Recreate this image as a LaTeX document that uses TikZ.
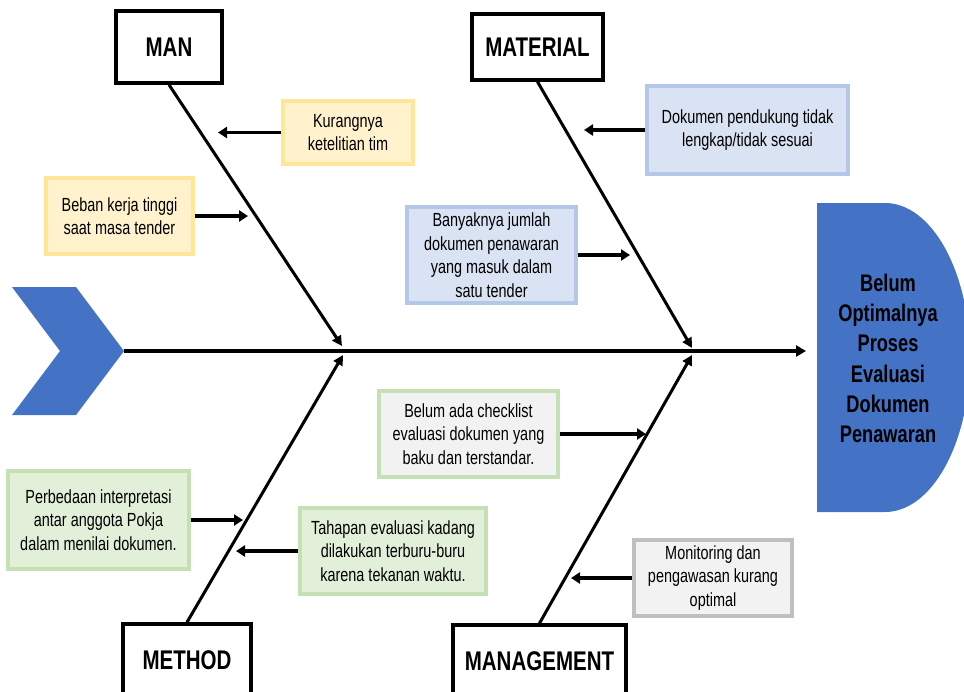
\documentclass[tikz,border=0pt]{standalone}
\usepackage{fontspec}
\setmainfont{Liberation Sans}[FakeStretch=0.76]
\usetikzlibrary{arrows.meta}
\definecolor{headblue}{HTML}{4472C4}
\definecolor{yfill}{HTML}{FFF2CC}
\definecolor{ydraw}{HTML}{FFE699}
\definecolor{bfill}{HTML}{DAE3F3}
\definecolor{bdraw}{HTML}{B4C7E7}
\definecolor{gfill}{HTML}{E2F0D9}
\definecolor{gdraw}{HTML}{C5E0B4}
\definecolor{greyfill}{HTML}{F2F2F2}
\definecolor{greydraw}{HTML}{BFBFBF}
\tikzset{
  catbox/.style={draw=black, line width=3.5pt, fill=white, inner sep=0pt,
    font=\bfseries\fontsize{27}{32}\selectfont},
  causebox/.style={line width=3.2pt, inner sep=0pt, align=center,
    font=\fontsize{19}{23.5}\selectfont},
  arr/.style={line width=3.3pt, -{Triangle[length=9pt,width=11pt]}},
  bone/.style={line width=3pt, -{Triangle[length=10pt,width=10pt]}},
}
\begin{document}
\begin{tikzpicture}[x=1pt,y=-1pt]
\useasboundingbox (0,0) rectangle (964,691);
% head
\path[fill=headblue] (817,203) -- (885,203) arc[start angle=-90,end angle=90,x radius=85,y radius=154.5] -- (817,512) -- cycle;
\node[font=\bfseries\fontsize{24}{30.2}\selectfont, align=center, inner sep=0pt] (head) at (888,358.5)
  {Belum\\Optimalnya\\Proses\\Evaluasi\\Dokumen\\Penawaran};
% tail chevron
\path[fill=headblue] (12,287) -- (76,287) -- (124,351) -- (76,415) -- (12,415) -- (60,351) -- cycle;
\coordinate (tail) at (124,351);
\coordinate (spineEnd) at (806,351);
\draw[line width=3.3pt, -{Triangle[length=10pt,width=11pt]}] (tail) -- (spineEnd);
% categories
\node[catbox, minimum width=106pt, minimum height=72pt] (man) at (169,47) {MAN};
\node[catbox, minimum width=131pt, minimum height=66pt] (mat) at (537.5,47) {MATERIAL};
\node[catbox, minimum width=128pt, minimum height=72pt] (met) at (187,660) {METHOD};
\node[catbox, minimum width=173pt, minimum height=72pt] (mgm) at (539.5,661) {MANAGEMENT};
\coordinate (manEnd) at (342,346);
\coordinate (matEnd) at (692,348);
\coordinate (metEnd) at (343,355);
\coordinate (mgmEnd) at (692,355);
\draw[bone] (man.south) -- (manEnd);
\draw[bone] (mat.south) -- (matEnd);
\draw[bone] (met.north) -- (metEnd);
\draw[bone] (mgm.north) -- (mgmEnd);
% causes
\node[causebox, draw=ydraw, fill=yfill, minimum width=130pt, minimum height=63pt] (kur) at (348,132.5) {Kurangnya\\ketelitian tim};
\node[causebox, draw=ydraw, fill=yfill, minimum width=147pt, minimum height=76pt] (beb) at (119.5,216) {Beban kerja tinggi\\saat masa tender};
\node[causebox, draw=bdraw, fill=bfill, minimum width=201pt, minimum height=88pt] (dok) at (747.5,130) {Dokumen pendukung tidak\\lengkap/tidak sesuai};
\node[causebox, draw=bdraw, fill=bfill, minimum width=169pt, minimum height=96pt] (ban) at (491.5,255) {Banyaknya jumlah\\dokumen penawaran\\yang masuk dalam\\satu tender};
\node[causebox, draw=gdraw, fill=gfill, minimum width=181pt, minimum height=98pt] (per) at (98.5,520) {Perbedaan interpretasi\\antar anggota Pokja\\dalam menilai dokumen.};
\node[causebox, draw=gdraw, fill=gfill, minimum width=186pt, minimum height=86pt] (tah) at (393,551) {Tahapan evaluasi kadang\\dilakukan terburu-buru\\karena tekanan waktu.};
\node[causebox, draw=gdraw, fill=greyfill, minimum width=179pt, minimum height=86pt] (bel) at (468.5,434) {Belum ada checklist\\evaluasi dokumen yang\\baku dan terstandar.};
\node[causebox, draw=greydraw, fill=greyfill, minimum width=158pt, minimum height=76pt] (mon) at (713,578) {Monitoring dan\\pengawasan kurang\\optimal};
\coordinate (kurT) at (218,132.5);
\coordinate (bebT) at (248,216);
\coordinate (dokT) at (584,130);
\coordinate (banT) at (630,255);
\coordinate (perT) at (243,520);
\coordinate (tahT) at (236,551);
\coordinate (belT) at (646,434);
\coordinate (monT) at (571,578);
\draw[arr] (kur.west) -- (kurT);
\draw[arr] (beb.east) -- (bebT);
\draw[arr] (dok.west) -- (dokT);
\draw[arr] (ban.east) -- (banT);
\draw[arr] (per.east) -- (perT);
\draw[arr] (tah.west) -- (tahT);
\draw[arr] (bel.east) -- (belT);
\draw[arr] (mon.west) -- (monT);
\end{tikzpicture}
\end{document}
